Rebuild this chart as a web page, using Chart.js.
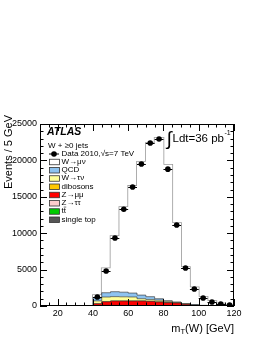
<!DOCTYPE html>
<html>
<head>
<meta charset="utf-8">
<script src="https://cdn.jsdelivr.net/npm/chart.js@4.4.1/dist/chart.umd.min.js"></script>
<style>
html, body { margin: 0; padding: 0; background: #fff; }
#wrap { width: 266px; height: 344px; position: relative; }
</style>
</head>
<body>
<div id="wrap"><canvas id="mt"></canvas></div>
<script>
'use strict';

// 5 GeV bins in m_T(W)
const binEdges = [40, 45, 50, 55, 60, 65, 70, 75, 80, 85, 90, 95, 100, 105, 110, 115, 120];
const binCenters = [42.5, 47.5, 52.5, 57.5, 62.5, 67.5, 72.5, 77.5, 82.5, 87.5, 92.5, 97.5, 102.5, 107.5, 112.5, 117.5];

// data 2010
const dataEvents = [1230, 4800, 9340, 13300, 16350, 19500, 22390, 22940, 18800, 11130, 5220, 2330, 1100, 550, 280, 140];

// MC samples (legend order)
const wMuNu = [400, 3370, 7640, 11700, 14720, 18300, 21120, 22100, 18670, 10850, 5030, 2420, 1190, 640, 315, 145];
const qcd = [400, 590, 680, 640, 540, 500, 380, 200, 90, 50, 30, 15, 8, 4, 2, 1];
const wTauNu = [395, 640, 590, 565, 540, 300, 240, 230, 160, 75, 48, 40, 20, 10, 5, 3];
const dibosons = [5, 8, 12, 15, 18, 20, 20, 20, 18, 15, 12, 8, 6, 4, 3, 2];
const zMuMu = [250, 490, 590, 595, 605, 615, 585, 500, 420, 380, 210, 85, 40, 20, 10, 5];
const zTauTau = [40, 70, 60, 45, 35, 25, 15, 10, 5, 3, 2, 1, 1, 0, 0, 0];
const ttbar = [10, 20, 25, 30, 30, 30, 30, 30, 25, 20, 15, 10, 6, 4, 2, 1];
const singleTop = [3, 5, 8, 10, 10, 10, 10, 10, 8, 6, 5, 3, 2, 1, 1, 0];

const xTicks = [20, 40, 60, 80, 100, 120];
const yTicks = [0, 5000, 10000, 15000, 20000, 25000];

const FONT = "'Liberation Sans', Arial, 'DejaVu Sans', sans-serif";

const samples = [
    { label: 'W\u2192\u03bc\u03bd', values: wMuNu, color: '#ffffff' },
    { label: 'QCD', values: qcd, color: '#8ec3f0' },
    { label: 'W\u2192\u03c4\u03bd', values: wTauNu, color: '#ffff99' },
    { label: 'dibosons', values: dibosons, color: '#ffc800' },
    { label: 'Z\u2192\u03bc\u03bc', values: zMuMu, color: '#ff0000' },
    { label: 'Z\u2192\u03c4\u03c4', values: zTauTau, color: '#ffcccc' },
    { label: 'tt', values: ttbar, color: '#00cc00', bar: true },
    { label: 'single top', values: singleTop, color: '#555555' }
];

// histogram as stepped line: one point per bin edge
function stepPoints(vals) {
    return binEdges.map((e, i) => ({ x: e, y: vals[Math.min(i, vals.length - 1)] }));
}

// stack from the bottom (single top) up to W->munu
const stackOrder = samples.slice().reverse();
let running = new Array(dataEvents.length).fill(0);
const stackSets = stackOrder.map((s, i) => {
    running = running.map((v, k) => v + s.values[k]);
    const top = s === samples[0];
    return {
        label: s.label,
        data: stepPoints(running),
        stepped: true,
        fill: i === 0 ? 'origin' : '-1',
        backgroundColor: s.color,
        borderColor: top ? 'rgba(0,0,0,0)' : 'rgba(40,40,40,0.75)',
        borderWidth: top ? 0 : 0.8,
        pointRadius: 0
    };
});

const totalMC = running.slice();
const outline = [{ x: binEdges[0], y: 0 }].concat(stepPoints(totalMC), [{ x: binEdges[binEdges.length - 1], y: 0 }]);

const datasets = stackSets.concat([
    {
        label: 'total',
        data: outline,
        stepped: true,
        fill: false,
        borderColor: '#9a9a9a',
        borderWidth: 1.6,
        pointRadius: 0
    },
    {
        label: 'Data 2010',
        data: binCenters.map((c, i) => ({ x: c, y: dataEvents[i] })),
        showLine: false,
        pointRadius: 2.8,
        pointBackgroundColor: '#000',
        pointBorderColor: '#000',
        pointBorderWidth: 0,
        order: -1
    }
]);

const atlasDecor = {
    id: 'atlasDecor',
    afterDatasetsDraw(chart) {
        const { ctx, scales: { x, y } } = chart;
        ctx.save();
        ctx.strokeStyle = '#000';
        ctx.lineWidth = 1;
        binCenters.forEach((c, i) => {
            const py = Math.round(y.getPixelForValue(dataEvents[i])) + 0.5;
            ctx.beginPath();
            ctx.moveTo(x.getPixelForValue(c - 2.5), py);
            ctx.lineTo(x.getPixelForValue(c + 2.5), py);
            ctx.stroke();
        });
        ctx.restore();
    },
    afterDraw(chart) {
        const { ctx, chartArea: a, scales: { x, y } } = chart;
        ctx.save();

        // frame + inward ticks on all sides
        ctx.strokeStyle = '#000';
        ctx.lineWidth = 1;
        ctx.strokeRect(Math.round(a.left) + 0.5, Math.round(a.top) + 0.5,
            Math.round(a.right - a.left) - 1, Math.round(a.bottom - a.top) - 1);
        ctx.beginPath();
        for (let v = x.min; v <= x.max; v += 5) {
            const px = Math.round(x.getPixelForValue(v)) + 0.5;
            const len = v % 20 === 0 ? 7 : 3.5;
            ctx.moveTo(px, a.bottom); ctx.lineTo(px, a.bottom - len);
            ctx.moveTo(px, a.top); ctx.lineTo(px, a.top + len);
        }
        for (let v = y.min; v <= y.max; v += 1000) {
            const py = Math.round(y.getPixelForValue(v)) + 0.5;
            const len = v % 5000 === 0 ? 7 : 3.5;
            ctx.moveTo(a.left, py); ctx.lineTo(a.left + len, py);
            ctx.moveTo(a.right, py); ctx.lineTo(a.right - len, py);
        }
        ctx.stroke();

        ctx.fillStyle = '#000';
        ctx.textBaseline = 'middle';
        ctx.textAlign = 'left';

        // legend
        ctx.font = 'italic bold 10.5px ' + FONT;
        ctx.fillText('ATLAS', 47, 132);
        ctx.font = '8px ' + FONT;
        ctx.fillText('W + \u22650 jets', 48, 145.5);

        const rowY0 = 153.5, rowH = 8.25;
        ctx.beginPath();
        ctx.moveTo(49, rowY0 + 0.5); ctx.lineTo(59, rowY0 + 0.5);
        ctx.stroke();
        ctx.beginPath();
        ctx.arc(54, rowY0 + 0.5, 2.8, 0, Math.PI * 2);
        ctx.fill();
        ctx.fillText('Data 2010,\u221as=7 TeV', 61.5, rowY0);

        samples.forEach((s, i) => {
            const ry = rowY0 + rowH * (i + 1);
            ctx.fillStyle = s.color;
            ctx.fillRect(49.5, ry - 2.5, 10, 5.5);
            ctx.strokeStyle = '#333';
            ctx.lineWidth = 0.8;
            ctx.strokeRect(49.5, ry - 2.5, 10, 5.5);
            ctx.fillStyle = '#000';
            ctx.fillText(s.label, 61.5, ry);
            if (s.bar) {
                const w1 = ctx.measureText('t').width;
                ctx.lineWidth = 0.7;
                ctx.beginPath();
                ctx.moveTo(61.5 + w1, ry - 4.2);
                ctx.lineTo(61.5 + 2 * w1 + 0.3, ry - 4.2);
                ctx.stroke();
            }
        });

        // luminosity
        ctx.font = '19px ' + FONT;
        ctx.fillText('\u222b', 166.5, 140);
        ctx.font = '11.5px ' + FONT;
        ctx.fillText('Ldt=36 pb', 172.5, 138.5);
        const lw = ctx.measureText('Ldt=36 pb').width;
        ctx.font = '7px ' + FONT;
        ctx.fillText('-1', 172.5 + lw + 0.5, 133.5);

        // x axis title, right aligned at the frame
        const big = '11px ' + FONT, sub = '7.5px ' + FONT;
        ctx.font = big;
        const wm = ctx.measureText('m').width;
        const wr = ctx.measureText('(W) [GeV]').width;
        ctx.font = sub;
        const wt = ctx.measureText('T').width;
        const tx = a.right - (wm + wt + wr);
        const ty = 329;
        ctx.font = big;
        ctx.fillText('m', tx, ty);
        ctx.font = sub;
        ctx.fillText('T', tx + wm, ty + 3);
        ctx.font = big;
        ctx.fillText('(W) [GeV]', tx + wm + wt, ty);

        // y axis title, top aligned
        ctx.translate(8.5, 115);
        ctx.rotate(-Math.PI / 2);
        ctx.textAlign = 'right';
        ctx.font = big;
        ctx.fillText('Events / 5 GeV', 0, 0);

        ctx.restore();
    }
};

new Chart(document.getElementById('mt'), {
    type: 'line',
    data: { datasets: datasets },
    options: {
        responsive: true,
        maintainAspectRatio: false,
        animation: false,
        layout: { padding: { top: 124, right: 32, left: 0, bottom: 0 } },
        plugins: {
            legend: { display: false },
            tooltip: { enabled: false }
        },
        scales: {
            x: {
                type: 'linear',
                min: 10,
                max: 120,
                afterBuildTicks: s => { s.ticks = xTicks.map(v => ({ value: v })); },
                afterFit: s => { s.height = 38; },
                grid: { display: false, drawTicks: false },
                border: { display: false },
                ticks: { color: '#000', font: { family: FONT, size: 9 }, padding: 2, maxRotation: 0, callback: v => String(v) }
            },
            y: {
                min: 0,
                max: 25000,
                afterBuildTicks: s => { s.ticks = yTicks.map(v => ({ value: v })); },
                afterFit: s => { s.width = 40; },
                grid: { display: false, drawTicks: false },
                border: { display: false },
                ticks: { color: '#000', font: { family: FONT, size: 9 }, padding: 3, callback: v => String(v) }
            }
        }
    },
    plugins: [atlasDecor]
});
</script>
</body>
</html>
